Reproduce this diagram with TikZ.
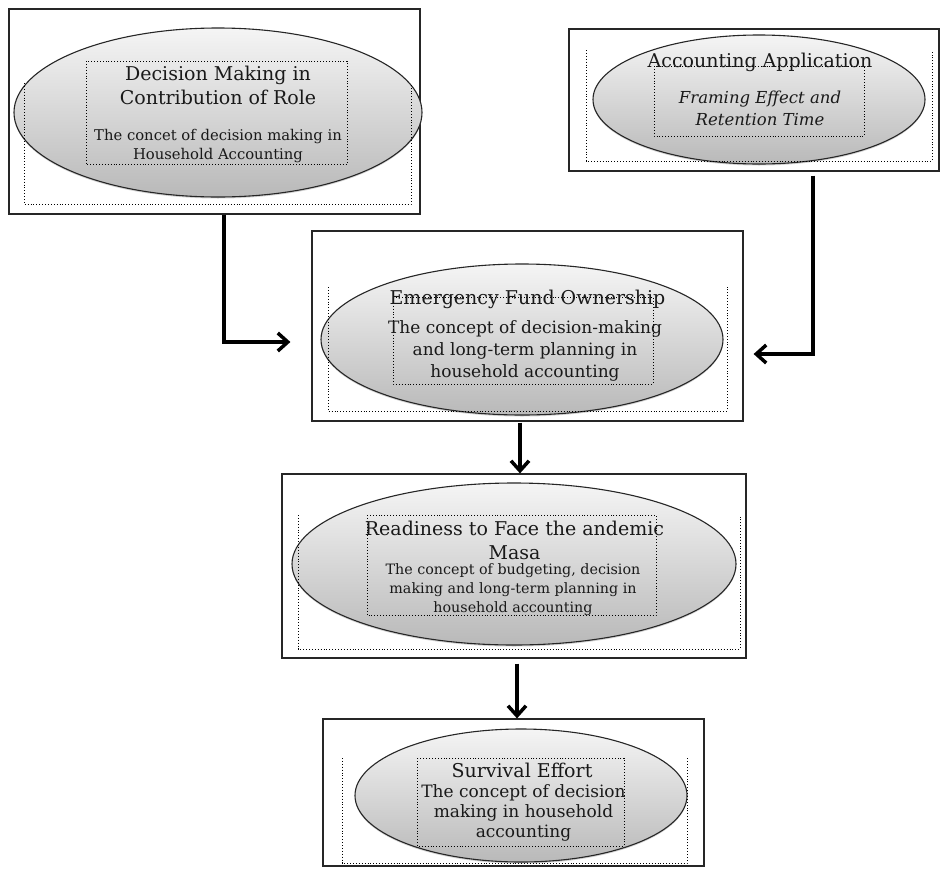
\documentclass[tikz,border=0pt]{standalone}
\usepackage{fontspec}
\setmainfont{DejaVu Serif}
\usetikzlibrary{shapes.geometric, arrows.meta, shadows}

\tikzset{
    frame/.style={draw=black!85, line width=1.2pt, fill=white, inner sep=0pt},
    oval/.style={ellipse, draw=black!85, line width=1.1pt, inner sep=0pt,
        top color=gray!8, bottom color=gray!55,
        drop shadow={shadow xshift=0pt, shadow yshift=-1.5pt, opacity=0.35}},
    dotbox/.style={draw=black, dotted, line width=0.9pt},
    headtext/.style={inner sep=0pt, align=center, text=black!90, font=\fontsize{19}{24}\selectfont},
    bodytext/.style 2 args={inner sep=0pt, align=center, text=black!90, font=\fontsize{#1}{#2}\selectfont},
    flow/.style={line width=3.5pt, -{Straight Barb[length=10pt, width=18pt]}}
}

\begin{document}
\begin{tikzpicture}[x=1pt, y=-1pt]
    \useasboundingbox (0,0) rectangle (940,868);

    % Decision making
    \node[frame, minimum width=411pt, minimum height=205pt] (box1) at (214.5,111.5) {};
    \node[oval, minimum width=408pt, minimum height=169pt] (oval1) at (218,112.5) {};
    \draw[dotbox] (86,61) rectangle (347,164);
    \draw[dotbox] (24,83) |- (411,204) -- (411,83);
    \node[headtext] (head1) at (218,85) {Decision Making in\\Contribution of Role};
    \node[bodytext={14.8}{18.5}] (text1) at (218,146) {The concet of decision making in\\Household Accounting};

    % Accounting application
    \node[frame, minimum width=370pt, minimum height=142pt] (box2) at (754,100) {};
    \node[oval, minimum width=332pt, minimum height=129pt] (oval2) at (759,99.5) {};
    \draw[dotbox] (654,66) rectangle (864,136);
    \draw[dotbox] (586,50) |- (932,161) -- (932,50);
    \node[headtext] (head2) at (760,62) {Accounting Application};
    \node[bodytext={16.5}{22}] (text2) at (760,108) {\itshape Framing Effect and\\\itshape Retention Time};

    % Emergency fund
    \node[frame, minimum width=431pt, minimum height=190pt] (box3) at (527.5,326) {};
    \node[oval, minimum width=402pt, minimum height=151pt] (oval3) at (522,339.5) {};
    \draw[dotbox] (393,297) rectangle (653,384);
    \draw[dotbox] (328,287) |- (727,411) -- (727,287);
    \node[headtext] (head3) at (527.5,299) {Emergency Fund Ownership};
    \node[bodytext={17}{22}] (text3) at (525,351) {The concept of decision-making\\and long-term planning in\\household accounting};

    % Readiness
    \node[frame, minimum width=464pt, minimum height=184pt] (box4) at (514,566) {};
    \node[oval, minimum width=444pt, minimum height=162pt] (oval4) at (514,564) {};
    \draw[dotbox] (367,515) rectangle (656,615);
    \draw[dotbox] (298,515) |- (740,649) -- (740,515);
    \node[headtext] (head4) at (514.5,540) {Readiness to Face the andemic\\Masa};
    \node[bodytext={14.3}{19}] (text4) at (513,590) {The concept of budgeting, decision\\making and long-term planning in\\household accounting};

    % Survival
    \node[frame, minimum width=381pt, minimum height=147pt] (box5) at (513.5,792.5) {};
    \node[oval, minimum width=332pt, minimum height=133pt] (oval5) at (521,795.5) {};
    \draw[dotbox] (417,758) rectangle (624,846);
    \draw[dotbox] (342,758) |- (687,863) -- (687,758);
    \node[headtext] (head5) at (522,770) {Survival Effort};
    \node[bodytext={17}{20}] (text5) at (523.5,813) {The concept of decision\\making in household\\accounting};

    % Arrows
    \draw[flow] ([xshift=9.5pt]box1.south) |- ([xshift=-21pt, yshift=-16pt]box3.west);
    \draw[flow] ([xshift=59pt, yshift=-4pt]box2.south) |- ([xshift=10pt, yshift=-28pt]box3.east);
    \draw[flow] ([xshift=-7.5pt, yshift=-1pt]box3.south) -- ([xshift=-7.5pt]box3.south |- box4.north);
    \draw[flow] ([xshift=3pt, yshift=-5pt]box4.south) -- ([xshift=3pt]box4.south |- box5.north);
\end{tikzpicture}
\end{document}
